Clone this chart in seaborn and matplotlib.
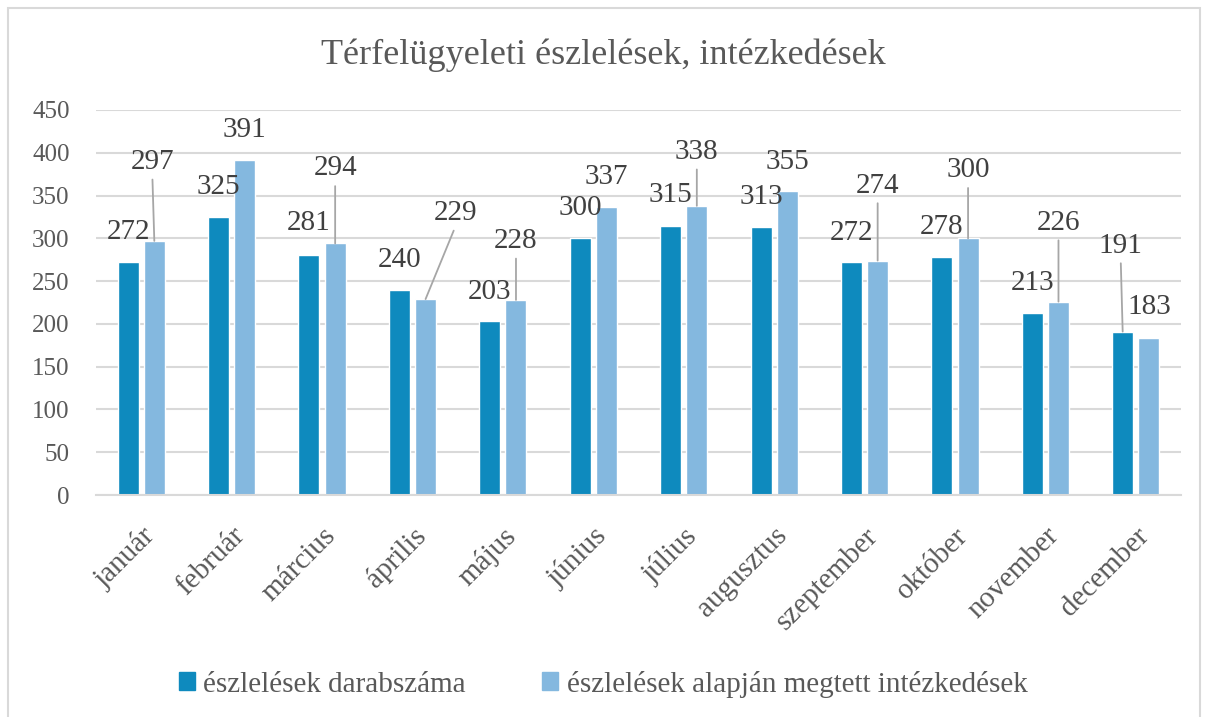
import pandas as pd
import matplotlib
matplotlib.use("Agg")
import matplotlib.pyplot as plt
import matplotlib.patches as mpatches
import seaborn as sns

# adatok
honapok = ["január", "február", "március", "április", "május", "június",
           "július", "augusztus", "szeptember", "október", "november", "december"]
eszlelesek = [272, 325, 281, 240, 203, 300, 315, 313, 272, 278, 213, 191]
intezkedesek = [297, 391, 294, 229, 228, 337, 338, 355, 274, 300, 226, 183]
sorozat_nevek = ["észlelések darabszáma", "észlelések alapján megtett intézkedések"]
y_ticks = [0, 50, 100, 150, 200, 250, 300, 350, 400, 450]

# címke eltolások (pixel) - csak elrendezés
dx_sotet = [0, 0, 0, 0, 0, 0, 0, 0, 0, 0, 0, -2]
dy_sotet = [30, 30, 32, 30, 29, 30, 30, 30, 29, 30, 30, 86]
dx_vilagos = [-2, 0, 0, 30, 0, 0, 0, 0, 0, 0, 0, 0]
dy_vilagos = [79, 30, 75, 86, 59, 30, 54, 29, 75, 68, 79, 31]

szinek = ["#0E8ABE", "#84B8DF"]

df = pd.DataFrame({
    "Hónap": honapok * 2,
    "Érték": eszlelesek + intezkedesek,
    "Sorozat": [sorozat_nevek[0]] * 12 + [sorozat_nevek[1]] * 12,
})

sns.set_style("white")
plt.rcParams["font.family"] = ["Liberation Serif", "DejaVu Serif"]

fig = plt.figure(figsize=(12.06, 7.17), dpi=100)
ax = fig.add_axes([96 / 1206, 1 - 495 / 717, 1085 / 1206, 385 / 717])

sns.barplot(data=df, x="Hónap", y="Érték", hue="Sorozat", palette=szinek,
            width=0.58, gap=0.2, saturation=1, ax=ax, legend=True)

ax.set_ylim(0, 450)
ax.set_xlim(-0.5, 11.5)
ax.set_yticks(y_ticks)
ax.yaxis.grid(True, color="#D9D9D9", linewidth=1.5)
ax.set_axisbelow(True)
for s in ["top", "right", "left"]:
    ax.spines[s].set_visible(False)
ax.spines["bottom"].set_color("#D9D9D9")
ax.spines["bottom"].set_linewidth(1.5)
ax.tick_params(axis="both", length=0, colors="#595959")
ax.tick_params(axis="y", pad=19, labelsize=18)
ax.tick_params(axis="x", pad=20, labelsize=21)
ax.set_xlabel("")
ax.set_ylabel("")
plt.setp(ax.get_xticklabels(), rotation=45, ha="right", rotation_mode="anchor")

# adatcímkék
px = 0.72
for cont, dxs, dys in zip(ax.containers, [dx_sotet, dx_vilagos], [dy_sotet, dy_vilagos]):
    for bar, dx, dy in zip(cont, dxs, dys):
        x = bar.get_x() + bar.get_width() / 2
        v = bar.get_height()
        props = None
        if dy > 45:
            props = dict(arrowstyle="-", color="#A6A6A6", lw=1.3,
                         relpos=(0.5, 0.0), shrinkA=1, shrinkB=0)
        ax.annotate(f"{v:.0f}", xy=(x, v), xytext=(dx * px, dy * px),
                    textcoords="offset points", ha="center", va="center",
                    fontsize=21, color="#404040", arrowprops=props,
                    annotation_clip=False)

fig.text(0.5, 1 - 55 / 717, "Térfelügyeleti észlelések, intézkedések",
         fontsize=26, color="#595959", ha="center", va="center")

ax.legend_.remove()
kezek = [mpatches.Patch(color=c, label=n) for c, n in zip(szinek, sorozat_nevek)]
fig.legend(handles=kezek, loc="center", bbox_to_anchor=(0.5, 1 - 684 / 717),
           ncol=2, frameon=False, fontsize=21, labelcolor="#595959",
           handlelength=0.55, handleheight=0.55, handletextpad=0.3, columnspacing=2.6)

# keret
fig.patches.append(mpatches.FancyBboxPatch(
    (8 / 1206, -0.02), 1 - 14 / 1206, 1 - 8 / 717 + 0.02,
    boxstyle="square,pad=0", transform=fig.transFigure,
    fill=False, edgecolor="#D9D9D9", linewidth=1.5))

fig.savefig("out.png", dpi=100)
